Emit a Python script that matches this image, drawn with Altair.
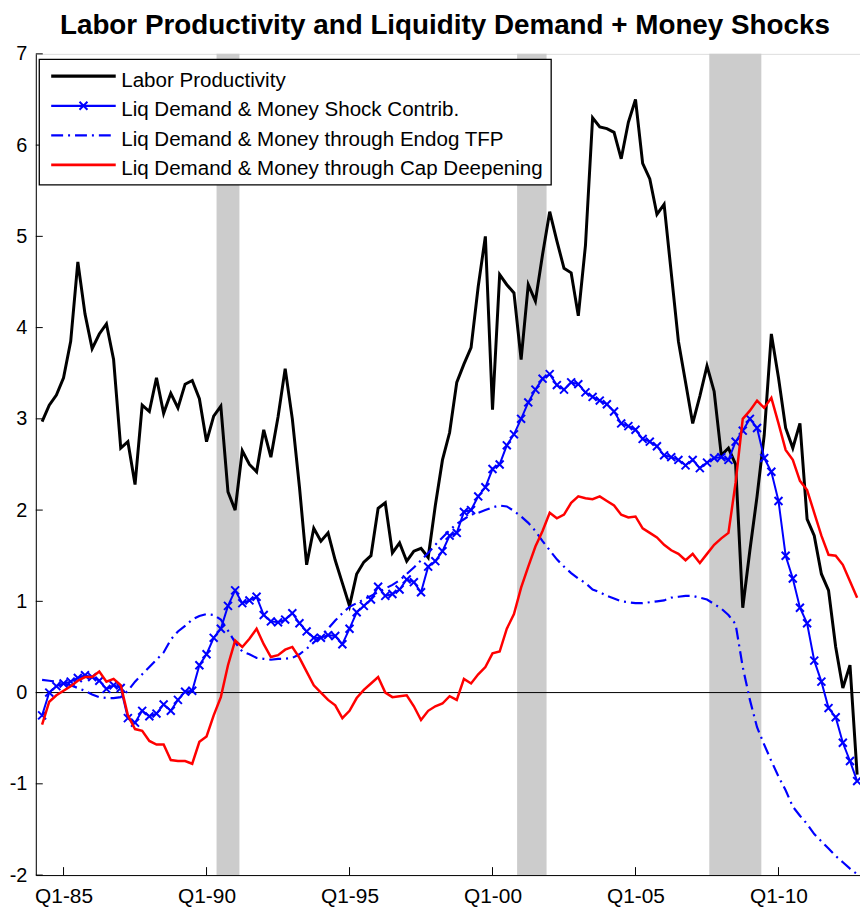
import altair as alt
import pandas as pd

# ---------------- data ----------------
FIRST_QUARTER = 1984.25   # 1984Q2, quarters step by 0.25 year

chart_title = "Labor Productivity and Liquidity Demand + Money Shocks"

series_names = [
    "Labor Productivity",
    "Liq Demand & Money Shock Contrib.",
    "Liq Demand & Money through Endog TFP",
    "Liq Demand & Money through Cap Deepening",
]

labor_productivity = [
    2.97, 3.15, 3.26, 3.45, 3.85, 4.72, 4.15, 3.77, 3.93, 4.04,
    3.65, 2.68, 2.75, 2.28, 3.15, 3.08, 3.45, 3.06, 3.28, 3.12,
    3.38, 3.42, 3.22, 2.75, 3.03, 3.14, 2.20, 2.00, 2.65, 2.50,
    2.42, 2.88, 2.58, 3.02, 3.55, 3.00, 2.25, 1.40, 1.80, 1.66,
    1.75, 1.45, 1.20, 0.95, 1.30, 1.43, 1.50, 2.02, 2.08, 1.53,
    1.64, 1.44, 1.55, 1.58, 1.48, 2.05, 2.55, 2.85, 3.40, 3.60,
    3.78, 4.45, 5.00, 3.10, 4.58, 4.47, 4.38, 3.65, 4.47, 4.29,
    4.80, 5.27, 4.95, 4.65, 4.60, 4.13, 4.90, 6.30, 6.20, 6.18,
    6.14, 5.85, 6.25, 6.50, 5.80, 5.63, 5.24, 5.35, 4.60, 3.85,
    3.40, 2.95, 3.25, 3.58, 3.30, 2.60, 2.68, 2.50, 0.93, 1.56,
    2.15, 2.82, 3.93, 3.45, 2.90, 2.68, 2.95, 1.90, 1.72, 1.30,
    1.12, 0.50, 0.05, 0.30, -0.90,
]

shock_contrib = [
    -0.25, 0.00, 0.07, 0.10, 0.12, 0.16, 0.19, 0.17, 0.13, 0.04,
    0.08, 0.05, -0.28, -0.33, -0.20, -0.26, -0.23, -0.13, -0.20, -0.08,
    0.01, 0.02, 0.30, 0.42, 0.60, 0.70, 0.95, 1.12, 0.98, 1.01,
    1.05, 0.85, 0.78, 0.77, 0.80, 0.87, 0.76, 0.67, 0.60, 0.60,
    0.63, 0.62, 0.53, 0.70, 0.88, 0.95, 1.02, 1.16, 1.06, 1.08,
    1.13, 1.24, 1.21, 1.10, 1.38, 1.44, 1.55, 1.72, 1.75, 1.98,
    2.00, 2.15, 2.25, 2.45, 2.50, 2.71, 2.83, 3.00, 3.18, 3.32,
    3.44, 3.49, 3.37, 3.32, 3.40, 3.38, 3.29, 3.24, 3.20, 3.16,
    3.08, 2.95, 2.92, 2.88, 2.78, 2.75, 2.70, 2.60, 2.58, 2.55,
    2.49, 2.55, 2.46, 2.52, 2.57, 2.58, 2.55, 2.75, 2.87, 3.00,
    2.90, 2.57, 2.42, 2.10, 1.50, 1.25, 0.93, 0.76, 0.35, 0.12,
    -0.17, -0.27, -0.55, -0.75, -0.97,
]

endog_tfp = [
    0.14, 0.13, 0.12, 0.10, 0.08, 0.05, 0.02, -0.02, -0.05, -0.06,
    -0.06, -0.05, 0.02, 0.12, 0.20, 0.28, 0.36, 0.44, 0.58, 0.67,
    0.73, 0.80, 0.84, 0.86, 0.85, 0.80, 0.68, 0.55, 0.45, 0.42,
    0.38, 0.37, 0.36, 0.37, 0.37, 0.38, 0.42, 0.48, 0.55, 0.62,
    0.70, 0.79, 0.87, 0.94, 0.98, 1.02, 1.06, 1.10, 1.14, 1.18,
    1.23, 1.30, 1.37, 1.45, 1.53, 1.62, 1.70, 1.78, 1.85, 1.90,
    1.95, 1.97, 2.00, 2.03, 2.05, 2.04, 1.99, 1.93, 1.86, 1.77,
    1.66, 1.56, 1.46, 1.38, 1.31, 1.25, 1.20, 1.13, 1.10, 1.06,
    1.03, 1.00, 0.99, 0.98, 0.98, 0.99, 1.00, 1.01, 1.04, 1.05,
    1.06, 1.06, 1.04, 1.02, 0.97, 0.92, 0.85, 0.75, 0.28, -0.08,
    -0.38, -0.57, -0.75, -0.92, -1.07, -1.25, -1.35, -1.44, -1.55, -1.63,
    -1.71, -1.79, -1.86, -1.93, -1.99,
]

cap_deepening = [
    -0.35, -0.10, -0.03, 0.02, 0.07, 0.13, 0.17, 0.17, 0.23, 0.12,
    0.15, 0.08, -0.25, -0.40, -0.42, -0.53, -0.57, -0.57, -0.74, -0.75,
    -0.75, -0.78, -0.54, -0.48, -0.25, -0.05, 0.30, 0.57, 0.50, 0.59,
    0.70, 0.53, 0.39, 0.41, 0.47, 0.50, 0.38, 0.23, 0.08, 0.00,
    -0.08, -0.14, -0.28, -0.20, -0.06, 0.03, 0.10, 0.17, 0.00, -0.05,
    -0.04, -0.03, -0.15, -0.30, -0.20, -0.15, -0.12, -0.04, -0.08, 0.15,
    0.10, 0.20, 0.28, 0.43, 0.45, 0.70, 0.86, 1.15, 1.38, 1.60,
    1.77, 1.97, 1.91, 1.95, 2.08, 2.15, 2.13, 2.12, 2.15, 2.10,
    2.05, 1.95, 1.92, 1.93, 1.80, 1.75, 1.70, 1.62, 1.56, 1.52,
    1.45, 1.52, 1.42, 1.52, 1.62, 1.69, 1.75, 2.30, 3.00, 3.09,
    3.20, 3.12, 3.23, 2.95, 2.66, 2.55, 2.32, 2.22, 1.97, 1.72,
    1.51, 1.50, 1.40, 1.22, 1.04,
]

recession_start = [1990.35, 2000.86, 2007.58]
recession_end = [1991.15, 2001.89, 2009.40]

x_tick_values = [1985, 1990, 1995, 2000, 2005, 2010]
x_tick_labels = ["Q1-85", "Q1-90", "Q1-95", "Q1-00", "Q1-05", "Q1-10"]
y_tick_values = [-2, -1, 0, 1, 2, 3, 4, 5, 6, 7]

# ---------------- styles ----------------
series_colors = ["black", "blue", "blue", "red"]
series_dashes = [None, None, [12, 5, 2, 5], None]
series_widths = [3, 2, 2.2, 2.5]

W, H = 830, 827
FONT = "Liberation Sans"

# ---------------- tables ----------------
all_values = [labor_productivity, shock_contrib, endog_tfp, cap_deepening]
rows = []
for name, vals in zip(series_names, all_values):
    for i, v in enumerate(vals):
        rows.append({"t": FIRST_QUARTER + 0.25 * i, "value": v, "series": name})
df = pd.DataFrame(rows)

rec_df = pd.DataFrame({"start": recession_start, "end": recession_end})
xt_df = pd.DataFrame({"t": x_tick_values})
yt_df = pd.DataFrame({"v": y_tick_values})
zero_df = pd.DataFrame({"v": [0]})

x_scale = alt.Scale(domain=[1984.03, 2012.85], nice=False, zero=False)
y_scale = alt.Scale(domain=[-2, 7], nice=False, zero=False)

label_expr = " : ".join(
    f"datum.value == {v} ? '{l}'" for v, l in zip(x_tick_values, x_tick_labels)
) + " : ''"

x_axis = alt.Axis(values=x_tick_values, labelExpr=label_expr, ticks=False, tickSize=0,
                  grid=False, domainColor="black", domainWidth=1, labelFontSize=21,
                  labelFont=FONT, labelColor="black", labelPadding=11, title=None,
                  labelFlush=False)
y_axis = alt.Axis(values=y_tick_values, labelExpr="'' + datum.value", ticks=False, tickSize=0,
                  grid=False, domainColor="black", domainWidth=1, labelFontSize=20,
                  labelFont=FONT, labelColor="black", labelPadding=9, title=None,
                  labelFlush=False)

X_MARK = "M-1,-1L1,1M-1,1L1,-1"

bars = alt.Chart(rec_df).mark_rect(color="#cccccc").encode(
    x=alt.X("start:Q", scale=x_scale, axis=x_axis),
    x2="end:Q",
    y=alt.value(0),
    y2=alt.value(H),
)

zero_line = alt.Chart(zero_df).mark_rule(color="black", strokeWidth=1).encode(
    y=alt.Y("v:Q", scale=y_scale, axis=y_axis)
)

y_ticks = alt.Chart(yt_df).mark_rule(color="black", strokeWidth=1).encode(
    y=alt.Y("v:Q", scale=y_scale), x=alt.value(0), x2=alt.value(7)
)
x_ticks = alt.Chart(xt_df).mark_rule(color="black", strokeWidth=1).encode(
    x=alt.X("t:Q", scale=x_scale), y=alt.value(H), y2=alt.value(H - 8)
)


def line_layer(idx):
    kw = dict(strokeWidth=series_widths[idx], color=series_colors[idx])
    if series_dashes[idx]:
        kw["strokeDash"] = series_dashes[idx]
    return alt.Chart(df).transform_filter(
        alt.datum.series == series_names[idx]
    ).mark_line(**kw).encode(
        x=alt.X("t:Q", scale=x_scale),
        y=alt.Y("value:Q", scale=y_scale),
        order="t:Q",
    )


markers = alt.Chart(df).transform_filter(
    alt.datum.series == series_names[1]
).mark_point(shape=X_MARK, filled=False, size=64, strokeWidth=2, color="blue", opacity=1).encode(
    x=alt.X("t:Q", scale=x_scale),
    y=alt.Y("value:Q", scale=y_scale),
)

# ---------------- legend (drawn in the plot's corner) ----------------
LEG_LEFT, LEG_RIGHT, LEG_TOP, LEG_BOTTOM = 3.5, 519, 5.5, 132
LEG_ROW0, LEG_ROW_STEP = 22.5, 29.8
SYM_X0, SYM_X1, TXT_X = 15.5, 80.5, 86

legend_layers = [
    alt.Chart(pd.DataFrame({"k": [0]})).mark_rect(
        fill="white", stroke="black", strokeWidth=1.3
    ).encode(x=alt.value(LEG_LEFT), x2=alt.value(LEG_RIGHT),
             y=alt.value(LEG_TOP), y2=alt.value(LEG_BOTTOM))
]
for i, name in enumerate(series_names):
    ry = LEG_ROW0 + LEG_ROW_STEP * i
    kw = dict(strokeWidth=series_widths[i] + 0.3, color=series_colors[i])
    if series_dashes[i]:
        kw["strokeDash"] = series_dashes[i]
    legend_layers.append(
        alt.Chart(pd.DataFrame({"label": [name]})).mark_rule(**kw).encode(
            x=alt.value(SYM_X0), x2=alt.value(SYM_X1), y=alt.value(ry)
        )
    )
    legend_layers.append(
        alt.Chart(pd.DataFrame({"label": [name]})).mark_text(
            align="left", baseline="alphabetic", font=FONT, fontSize=20.7, color="black"
        ).encode(text="label:N", x=alt.value(TXT_X), y=alt.value(ry + 10.5))
    )
legend_layers.append(
    alt.Chart(pd.DataFrame({"label": [series_names[1]]})).mark_point(
        shape=X_MARK, filled=False, size=64, strokeWidth=2, color="blue", opacity=1
    ).encode(x=alt.value((SYM_X0 + SYM_X1) / 2), y=alt.value(LEG_ROW0 + LEG_ROW_STEP))
)

title_layer = alt.Chart(pd.DataFrame({"title": [chart_title]})).mark_text(
    align="center", baseline="alphabetic", font=FONT, fontSize=28, fontWeight="bold",
    color="black",
).encode(text="title:N", x=alt.value(412), y=alt.value(-19.5))

chart = alt.layer(
    bars, zero_line, y_ticks, x_ticks,
    line_layer(0), line_layer(1), markers, line_layer(2), line_layer(3),
    *legend_layers, title_layer,
).properties(
    width=W, height=H,
    autosize=alt.AutoSizeParams(type="none"),
    padding={"left": 28, "top": 43, "right": 0, "bottom": 32},
).configure_view(stroke=None).configure(background="white")

chart.save("out.html", embed_options={"renderer": "svg", "actions": False})
